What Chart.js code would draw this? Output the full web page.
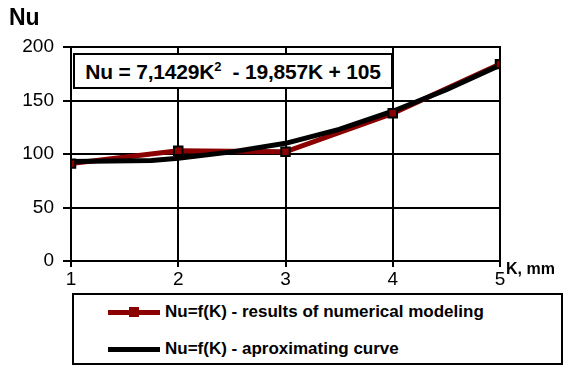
<!DOCTYPE html>
<html>
<head>
<meta charset="utf-8">
<script src="https://cdn.jsdelivr.net/npm/chart.js@4.4.1/dist/chart.umd.min.js"></script>
<style>
  html, body { margin: 0; padding: 0; background: #fff; }
  #wrap { position: relative; width: 571px; height: 367px; font-family: Arial, "Liberation Sans", sans-serif; }
  #c { position: absolute; left: 0; top: 0; }
  .lbl { position: absolute; color: #000; font-weight: bold; white-space: nowrap; }
  #eq { position: absolute; left: 73px; top: 53px; width: 316px; height: 32px; border: 2px solid #000; background: #fff;
        font-weight: bold; font-size: 21px; line-height: 33px; text-align: center; white-space: nowrap; letter-spacing: -0.2px; }
  #eq sup { font-size: 13px; vertical-align: 8px; line-height: 0; }
  #legend { position: absolute; left: 72px; top: 293px; width: 487px; height: 68px; border: 2px solid #000; background: #fff; }
  .item { position: absolute; left: 0; height: 20px; font-weight: bold; font-size: 17px; }
  .sw { position: absolute; left: 34px; width: 52px; height: 5px; top: 8px; }
  .mk { position: absolute; left: 55px; top: 5px; width: 10px; height: 10px; background: #8b0000; }
  .tx { position: absolute; left: 91px; top: 0px; white-space: nowrap; }
</style>
</head>
<body>
<div id="wrap">
  <canvas id="c" width="571" height="367"></canvas>
  <div class="lbl" style="left:9px;top:4px;font-size:23px;">Nu</div>
  <div class="lbl" style="left:506px;top:260px;font-size:16px;">K, mm</div>
  <div id="eq">Nu = 7,1429K<sup>2</sup>&nbsp; - 19,857K + 105</div>
  <div id="legend">
    <div class="item" style="top:7px;">
      <div class="sw" style="background:#8b0000;"></div><div class="mk"></div>
      <div class="tx">Nu=f(K) - results of numerical modeling</div>
    </div>
    <div class="item" style="top:44px;">
      <div class="sw" style="background:#000;"></div>
      <div class="tx">Nu=f(K) - aproximating curve</div>
    </div>
  </div>
</div>
<script>
// K values (mm) and Nusselt number from the numerical model
const kValues = [1, 2, 3, 4, 5];
const nuModel = [91, 103, 102, 138, 184];

// Approximating curve, as plotted
const kCurve = [1, 1.75, 2, 2.5, 3, 3.5, 4, 4.5, 5];
const nuCurve = [93, 94, 96, 102, 110, 123, 140, 160, 183];

// Axis ticks
const yTicks = [0, 50, 100, 150, 200];
const xTicks = [1, 2, 3, 4, 5];

const red = '#8b0000';
const tickFont = { family: 'Arial, "Liberation Sans"', size: 19 };
const toXY = (xs, ys) => xs.map((x, i) => ({ x: x, y: ys[i] }));

new Chart(document.getElementById('c'), {
  type: 'line',
  data: {
    datasets: [
      {
        label: 'Nu=f(K) - results of numerical modeling',
        data: toXY(kValues, nuModel),
        borderColor: red, borderWidth: 5, pointRadius: 0, tension: 0, order: 3
      },
      {
        label: 'Nu=f(K) - aproximating curve',
        data: toXY(kCurve, nuCurve),
        borderColor: '#000', borderWidth: 5, pointRadius: 0, tension: 0, order: 2
      },
      {
        label: 'markers',
        data: toXY(kValues, nuModel),
        showLine: false, pointStyle: 'rect', pointRadius: 6,
        pointBackgroundColor: red, pointBorderColor: '#000', pointBorderWidth: 2, order: 1
      }
    ]
  },
  options: {
    responsive: false,
    animation: false,
    layout: { padding: { left: 0, top: 47, right: 71, bottom: 76 } },
    plugins: { legend: { display: false }, tooltip: { enabled: false } },
    scales: {
      x: {
        type: 'linear', min: 1, max: 5,
        afterBuildTicks: s => { s.ticks = xTicks.map(v => ({ value: v })); },
        afterFit: s => { s.height = 30; },
        grid: { color: '#000', lineWidth: 2, tickLength: 6, tickColor: '#000' },
        border: { color: '#000', width: 2 },
        ticks: { color: '#000', font: tickFont, padding: 1, maxRotation: 0 }
      },
      y: {
        min: 0, max: 200,
        afterBuildTicks: s => { s.ticks = yTicks.map(v => ({ value: v })); },
        afterFit: s => { s.width = 71; },
        grid: { color: '#000', lineWidth: 2, tickLength: 8, tickColor: '#000' },
        border: { color: '#000', width: 2 },
        ticks: { color: '#000', font: tickFont, padding: 9 }
      }
    }
  },
  plugins: [{
    id: 'frame',
    afterDraw(chart) {
      const a = chart.chartArea, ctx = chart.ctx;
      ctx.save();
      ctx.strokeStyle = '#000'; ctx.lineWidth = 2;
      ctx.strokeRect(a.left, a.top, a.right - a.left, a.bottom - a.top);
      ctx.restore();
    }
  }]
});
</script>
</body>
</html>
